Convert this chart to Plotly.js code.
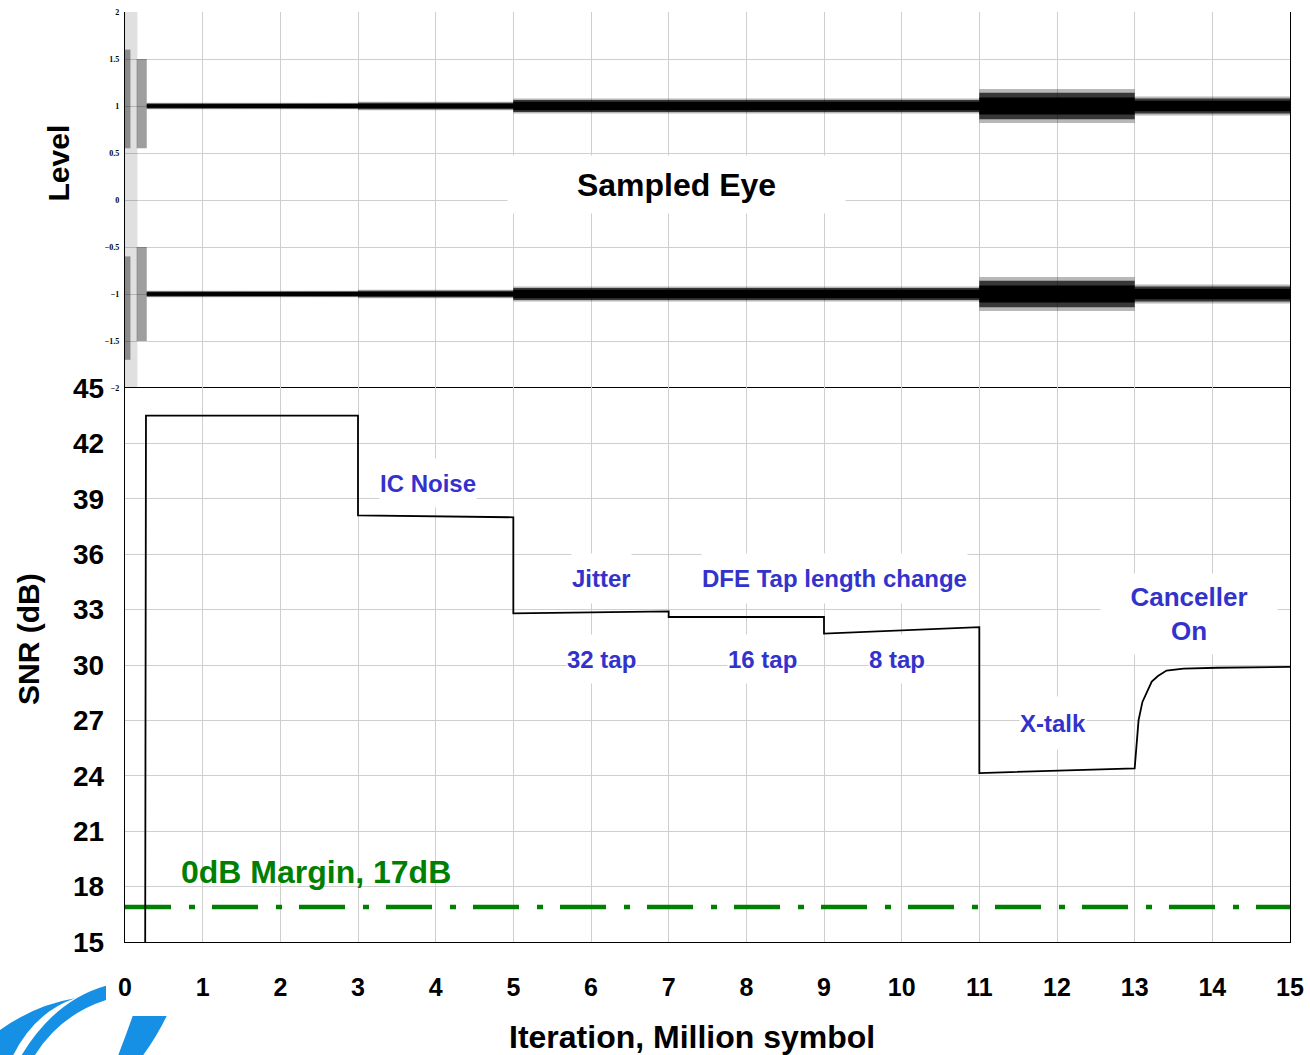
<!DOCTYPE html>
<html>
<head>
<meta charset="utf-8">
<script src="https://cdn.plot.ly/plotly-3.0.1.min.js"></script>
<style>html,body{margin:0;padding:0;background:#fff;}#chart{width:1310px;height:1055px;}</style>
</head>
<body>
<div id="chart"></div>
<script>
// ---------------- data ----------------
// SNR trace (dB) versus iteration (million symbols)
const snrX = [0.26, 0.27, 3.0, 3.0, 5.0, 5.0, 7.0, 7.0, 9.0, 9.0, 11.0, 11.0, 13.0, 13.02, 13.05, 13.1, 13.15, 13.22, 13.3, 13.41, 13.63, 14.06, 15.0];
const snrY = [15, 43.5, 43.5, 38.1, 38.0, 32.8, 32.9, 32.6, 32.6, 31.7, 32.05, 24.15, 24.4, 25.5, 27.0, 28.0, 28.5, 29.1, 29.4, 29.7, 29.8, 29.85, 29.9];

// 0 dB margin line
const marginX = [0, 15];
const marginY = [16.9, 16.9];

// Sampled eye: two levels, noise half-width per segment
const eyeLevels     = [1, -1];
const eyeSegStart   = [0.28, 3.0, 5.0, 11.0, 13.0];
const eyeSegEnd     = [3.0, 5.0, 11.0, 13.0, 15.0];
const eyeCoreHalf   = [0.018, 0.025, 0.045, 0.09, 0.055];
const eyeMidHalf    = [0.026, 0.035, 0.065, 0.14, 0.08];
const eyeSpreadHalf = [0.035, 0.045, 0.08, 0.18, 0.10];

// Initial (unconverged) scatter of the eye
const initX0      = [0.00, 0.00, 0.15];
const initX1      = [0.16, 0.07, 0.28];
const initUpperHi = [2.0, 1.6, 1.5];
const initUpperLo = [0.0, 0.55, 0.55];
const initLowerHi = [0.0, -0.6, -0.5];
const initLowerLo = [-2.0, -1.7, -1.5];

// Annotation labels
const noteText = ['IC Noise', 'Jitter', 'DFE Tap length change', '32 tap', '16 tap', '8 tap', 'X-talk', 'Canceller<br>On'];
const noteX    = [3.9, 6.14, 9.13, 6.14, 8.21, 9.94, 11.95, 13.7];
const noteY    = [39.86, 34.66, 34.66, 30.33, 30.33, 30.33, 26.86, 32.76];

// ---------------- layout helpers ----------------
const W = 1310, H = 1055;
const mL = 125, mR = 20, mT = 12, mB = 113;
const pw = W - mL - mR, ph = H - mT - mB;
const fx = px => (px - mL) / pw;
const fy = py => (H - mB - py) / ph;
const lowerTop = fy(388);

const FONT = 'Liberation Sans, Arial, Helvetica, sans-serif';
const BLUE = '#3333cc';

// ---------------- traces ----------------
const traces = [];

// eye bands (outer spread, middle, dense core)
function band(halfArr, color) {
  eyeLevels.forEach(c => {
    const xs = [], ys = [];
    for (let i = 0; i < eyeSegStart.length; i++) {
      xs.push(eyeSegStart[i], eyeSegEnd[i]);
      ys.push(c + halfArr[i], c + halfArr[i]);
    }
    for (let i = eyeSegStart.length - 1; i >= 0; i--) {
      xs.push(eyeSegEnd[i], eyeSegStart[i]);
      ys.push(c - halfArr[i], c - halfArr[i]);
    }
    traces.push({
      x: xs, y: ys, xaxis: 'x2', yaxis: 'y2', type: 'scatter', mode: 'lines',
      fill: 'toself', fillcolor: color, line: {width: 0},
      hoverinfo: 'skip', showlegend: false
    });
  });
}
band(eyeSpreadHalf, 'rgba(0,0,0,0.28)');
band(eyeMidHalf, 'rgba(0,0,0,0.7)');
band(eyeCoreHalf, '#000000');

// initial scatter regions
for (let i = 0; i < initX0.length; i++) {
  const col = i === 0 ? 'rgba(0,0,0,0.12)' : 'rgba(0,0,0,0.38)';
  [[initUpperLo[i], initUpperHi[i]], [initLowerLo[i], initLowerHi[i]]].forEach(([lo, hi]) => {
    traces.push({
      x: [initX0[i], initX1[i], initX1[i], initX0[i]],
      y: [lo, lo, hi, hi],
      xaxis: 'x2', yaxis: 'y2', type: 'scatter', mode: 'lines',
      fill: 'toself', fillcolor: col, line: {width: 0},
      hoverinfo: 'skip', showlegend: false
    });
  });
}

// margin line
traces.push({
  x: marginX, y: marginY, xaxis: 'x', yaxis: 'y', type: 'scatter', mode: 'lines',
  line: {color: '#008000', width: 4.5, dash: '46px,18px,6px,17px'},
  showlegend: false, hoverinfo: 'skip'
});

// SNR trace
traces.push({
  x: snrX, y: snrY, xaxis: 'x', yaxis: 'y', type: 'scatter', mode: 'lines',
  line: {color: '#000000', width: 1.8}, showlegend: false
});

// ---------------- annotations ----------------
const annotations = [];
const boxH = [48, 49, 49, 48, 48, 48, 52, 80];
const boxW = [null, null, null, null, null, null, null, 176];
noteText.forEach((t, i) => {
  const a = {
    text: t, x: noteX[i], y: noteY[i], xref: 'x', yref: 'y', showarrow: false,
    xanchor: 'center', yanchor: 'middle',
    font: {family: FONT, size: i === 7 ? 26 : 24, color: BLUE, weight: 'bold'},
    bgcolor: '#ffffff', borderpad: 0, height: boxH[i]
  };
  if (boxW[i]) a.width = boxW[i];
  annotations.push(a);
});
annotations.push({
  text: '0dB Margin, 17dB', x: 2.46, y: 18.8, xref: 'x', yref: 'y', showarrow: false,
  xanchor: 'center', yanchor: 'middle',
  font: {family: FONT, size: 32, color: '#008000', weight: 'bold'}
});
annotations.push({
  text: 'Sampled Eye', x: 7.1, y: 0.17, xref: 'x2', yref: 'y2', showarrow: false,
  xanchor: 'center', yanchor: 'middle',
  font: {family: FONT, size: 32, color: '#000000', weight: 'bold'},
  bgcolor: '#ffffff', borderpad: 0, width: 337, height: 57
});
annotations.push({
  text: 'Level', x: fx(57.5), y: fy(163), xref: 'paper', yref: 'paper', showarrow: false,
  xanchor: 'center', yanchor: 'middle',
  textangle: -90, font: {family: FONT, size: 30, color: '#000', weight: 'bold'}
});
annotations.push({
  text: 'SNR (dB)', x: fx(28), y: fy(639), xref: 'paper', yref: 'paper', showarrow: false,
  xanchor: 'center', yanchor: 'middle',
  textangle: -90, font: {family: FONT, size: 30, color: '#000', weight: 'bold'}
});
annotations.push({
  text: 'Iteration, Million symbol', x: fx(692), y: fy(1037), xref: 'paper', yref: 'paper', showarrow: false,
  xanchor: 'center', yanchor: 'middle',
  font: {family: FONT, size: 32, color: '#000', weight: 'bold'}
});

// ---------------- logo (decorative swooshes, bottom-left) ----------------
function path(cmds) {
  return cmds.map(c => {
    const [op, ...pts] = c;
    if (op === 'Z') return 'Z';
    const s = [];
    for (let k = 0; k < pts.length; k += 2) s.push(fx(pts[k]).toFixed(5) + ',' + fy(pts[k + 1]).toFixed(5));
    return op + ' ' + s.join(' ');
  }).join(' ');
}
const logoColor = '#1690e4';
const shapes = [
  {type: 'path', xref: 'paper', yref: 'paper', fillcolor: logoColor, line: {width: 0}, layer: 'above',
   path: path([['M', 0, 1030], ['Q', 35, 1005, 75, 998.3], ['Q', 35, 1012, 13.3, 1055], ['L', 0, 1055], ['Z']])},
  {type: 'path', xref: 'paper', yref: 'paper', fillcolor: logoColor, line: {width: 0}, layer: 'above',
   path: path([['M', 21.7, 1055], ['Q', 55, 1000, 106, 985.7], ['L', 106, 1000], ['Q', 60, 1015, 35, 1055], ['Z']])},
  {type: 'path', xref: 'paper', yref: 'paper', fillcolor: logoColor, line: {width: 0}, layer: 'above',
   path: path([['M', 132.7, 1016], ['L', 166.7, 1016], ['Q', 157, 1036, 143.3, 1055], ['L', 118.3, 1055], ['Q', 126, 1035, 132.7, 1016], ['Z']])}
];

// ---------------- layout ----------------
const GRID = '#cfcfcf';
const layout = {
  width: W, height: H,
  margin: {l: mL, r: mR, t: mT, b: mB, pad: 0},
  paper_bgcolor: '#ffffff', plot_bgcolor: '#ffffff',
  font: {family: FONT, color: '#000'},
  showlegend: false,
  xaxis: {
    domain: [0, 1], anchor: 'y', range: [0, 15], dtick: 1, tick0: 0,
    showgrid: true, gridcolor: GRID, gridwidth: 1, zeroline: false,
    showline: true, mirror: true, linecolor: '#000', linewidth: 1.2,
    ticks: '', ticklabelstandoff: 23,
    tickfont: {family: FONT, size: 25, weight: 'bold', color: '#000'}
  },
  yaxis: {
    domain: [0, lowerTop], anchor: 'x', range: [15, 45], dtick: 3, tick0: 15,
    showgrid: true, gridcolor: GRID, gridwidth: 1, zeroline: false,
    showline: true, mirror: true, linecolor: '#000', linewidth: 1.2,
    ticks: '', ticklabelstandoff: 14,
    tickfont: {family: FONT, size: 28, weight: 'bold', color: '#000'}
  },
  xaxis2: {
    domain: [0, 1], anchor: 'y2', range: [0, 15], dtick: 1, tick0: 0, matches: 'x',
    showgrid: true, gridcolor: GRID, gridwidth: 1, zeroline: false,
    showline: false, showticklabels: false, ticks: ''
  },
  yaxis2: {
    domain: [lowerTop, 1], anchor: 'x2', range: [-2, 2], dtick: 0.5, tick0: -2,
    showgrid: true, gridcolor: GRID, gridwidth: 1, zeroline: false,
    showline: true, mirror: true, linecolor: '#000', linewidth: 1.2,
    ticks: '', ticklabelstandoff: 3,
    tickfont: {family: 'Liberation Serif, Times New Roman, serif', size: 8, weight: 'bold', color: '#000'}
  },
  annotations: annotations,
  shapes: shapes
};

Plotly.newPlot('chart', traces, layout, {displayModeBar: false, staticPlot: true});
</script>
</body>
</html>
